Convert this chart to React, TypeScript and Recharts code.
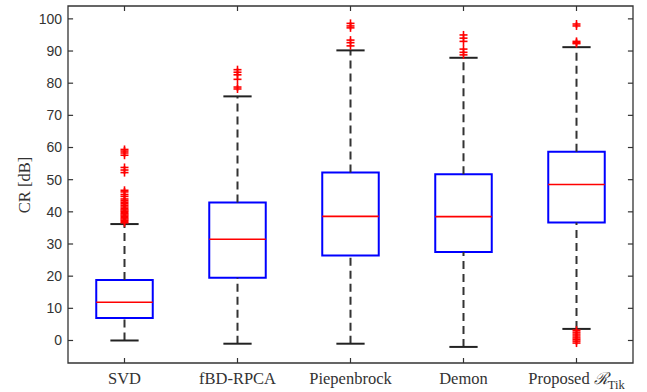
import { ComposedChart, XAxis, YAxis, Scatter, ReferenceArea, ReferenceLine, Label } from "recharts"

// box statistics (dB)
const categories = ["SVD", "fBD-RPCA", "Piepenbrock", "Demon", "Proposed"]
const lowerWhisker = [0, -1, -1, -2, 3.6]
const q1 = [7.0, 19.5, 26.4, 27.5, 36.7]
const median = [11.9, 31.5, 38.6, 38.5, 48.5]
const q3 = [18.8, 42.9, 52.2, 51.7, 58.7]
const upperWhisker = [36.2, 75.9, 90.2, 87.9, 91.2]

const outliersSVD = [59.4, 58.9, 58.3, 57.6, 53.8, 53.0, 52.2, 46.7, 46.2, 45.4, 44.8, 44.0, 43.5, 43.0, 42.5,
  42.0, 41.5, 41.0, 40.6, 40.2, 39.8, 39.4, 39.0, 38.6, 38.2, 37.8, 37.4, 37.0, 36.6]
const outliersFBD = [84.2, 83.4, 82.6, 81.2, 78.8, 78.2]
const outliersPiep = [98.6, 97.8, 97.2, 93.4, 92.6, 91.6]
const outliersDemon = [95.0, 94.0, 93.0, 90.6, 89.6, 88.8]
const outliersProposed = [98.4, 97.8, 93.0, 92.6, 92.3, 3.2, 2.6, 2.0, 1.4, 0.8, 0.3, -0.2, -0.8]
const outliers = [outliersSVD, outliersFBD, outliersPiep, outliersDemon, outliersProposed]

const yTicks = [0, 10, 20, 30, 40, 50, 60, 70, 80, 90, 100]

const X_DOM: [number, number] = [0.5, 5.5]
const Y_DOM: [number, number] = [-7, 104]
const HALF_BOX = 0.25
const HALF_CAP = 0.125
const TICK_X = 0.045 // ~5px in x units
const TICK_Y = 1.55 // ~5px in y units
const AX = "#333"
const serif = "'Liberation Serif', 'Times New Roman', serif"
const sans = "'Liberation Sans', Arial, sans-serif"

function CatTick({ x, y, payload }: any) {
  const i = Math.round(payload.value) - 1
  const name = categories[i]
  if (name === undefined) return null
  return (
    <text x={x} y={y + 11} textAnchor="middle" fill={AX} style={{ fontFamily: serif, fontSize: 16.5 }}>
      {name}
      {i === 4 && (
        <>
          <tspan> </tspan>
          <tspan style={{ fontFamily: "'DejaVu Serif', serif", fontStyle: "italic" }}>ℛ</tspan>
          <tspan dy={5} style={{ fontSize: 12.5 }}>Tik</tspan>
        </>
      )}
    </text>
  )
}

function Plus({ cx, cy }: any) {
  return (
    <g stroke="#ff0000" strokeWidth={1.6}>
      <line x1={cx - 4} x2={cx + 4} y1={cy} y2={cy} />
      <line x1={cx} x2={cx} y1={cy - 4} y2={cy + 4} />
    </g>
  )
}

export default function App() {
  const pos = categories.map((_, i) => i + 1)
  const pts = outliers.flatMap((vals, i) => vals.map((v) => ({ x: i + 1, y: v })))

  return (
    <div style={{ position: "absolute", left: 0, top: 0, width: 647, height: 392, background: "#fff" }}>
      <ComposedChart width={647} height={392} margin={{ top: 6, right: 14, bottom: 0, left: 0 }}>
        <XAxis type="number" dataKey="x" domain={X_DOM} ticks={pos} allowDataOverflow
          height={29} tickLine={false} axisLine={false} tickSize={0} tickMargin={10} tick={<CatTick />} />
        <YAxis type="number" dataKey="y" domain={Y_DOM} ticks={yTicks} allowDataOverflow width={68}
          tickLine={false} axisLine={false} tickSize={0} tickMargin={6}
          tick={{ fontFamily: sans, fontSize: 14, fill: AX }}>
          <Label content={() => (
            <text x={24} y={185} transform="rotate(-90 24 185)" textAnchor="middle" dominantBaseline="central"
              fill={AX} style={{ fontFamily: serif, fontSize: 16.5 }}>CR [dB]</text>
          )} />
        </YAxis>

        {/* frame + inward ticks */}
        <ReferenceArea x1={X_DOM[0]} x2={X_DOM[1]} y1={Y_DOM[0]} y2={Y_DOM[1]} ifOverflow="visible"
          fill="#fff" fillOpacity={0} stroke={AX} strokeWidth={1.3} strokeOpacity={1} />
        {yTicks.map((t) => (
          <ReferenceLine key={`yl${t}`} segment={[{ x: X_DOM[0], y: t }, { x: X_DOM[0] + TICK_X, y: t }]} stroke={AX} strokeWidth={1.2} />
        ))}
        {yTicks.map((t) => (
          <ReferenceLine key={`yr${t}`} segment={[{ x: X_DOM[1] - TICK_X, y: t }, { x: X_DOM[1], y: t }]} stroke={AX} strokeWidth={1.2} />
        ))}
        {pos.map((p) => (
          <ReferenceLine key={`xb${p}`} segment={[{ x: p, y: Y_DOM[0] }, { x: p, y: Y_DOM[0] + TICK_Y }]} stroke={AX} strokeWidth={1.2} />
        ))}
        {pos.map((p) => (
          <ReferenceLine key={`xt${p}`} segment={[{ x: p, y: Y_DOM[1] - TICK_Y }, { x: p, y: Y_DOM[1] }]} stroke={AX} strokeWidth={1.2} />
        ))}

        {pos.map((p, i) => (
          <ReferenceLine key={`wu${i}`} segment={[{ x: p, y: q3[i] }, { x: p, y: upperWhisker[i] }]}
            stroke="#333" strokeWidth={2} strokeDasharray="8 5" />
        ))}
        {pos.map((p, i) => (
          <ReferenceLine key={`wl${i}`} segment={[{ x: p, y: lowerWhisker[i] }, { x: p, y: q1[i] }]}
            stroke="#333" strokeWidth={2} strokeDasharray="8 5" />
        ))}
        {pos.map((p, i) => (
          <ReferenceLine key={`cu${i}`} segment={[{ x: p - HALF_CAP, y: upperWhisker[i] }, { x: p + HALF_CAP, y: upperWhisker[i] }]}
            stroke="#222" strokeWidth={2} />
        ))}
        {pos.map((p, i) => (
          <ReferenceLine key={`cl${i}`} segment={[{ x: p - HALF_CAP, y: lowerWhisker[i] }, { x: p + HALF_CAP, y: lowerWhisker[i] }]}
            stroke="#222" strokeWidth={2} />
        ))}
        {pos.map((p, i) => (
          <ReferenceArea key={`b${i}`} x1={p - HALF_BOX} x2={p + HALF_BOX} y1={q1[i]} y2={q3[i]}
            fill="#fff" fillOpacity={0} stroke="#0000ff" strokeWidth={2} strokeOpacity={1} />
        ))}
        {pos.map((p, i) => (
          <ReferenceLine key={`m${i}`} segment={[{ x: p - HALF_BOX, y: median[i] }, { x: p + HALF_BOX, y: median[i] }]}
            stroke="#ff0000" strokeWidth={1.6} />
        ))}

        <Scatter data={pts} dataKey="y" shape={<Plus />} isAnimationActive={false} />
      </ComposedChart>
    </div>
  )
}
